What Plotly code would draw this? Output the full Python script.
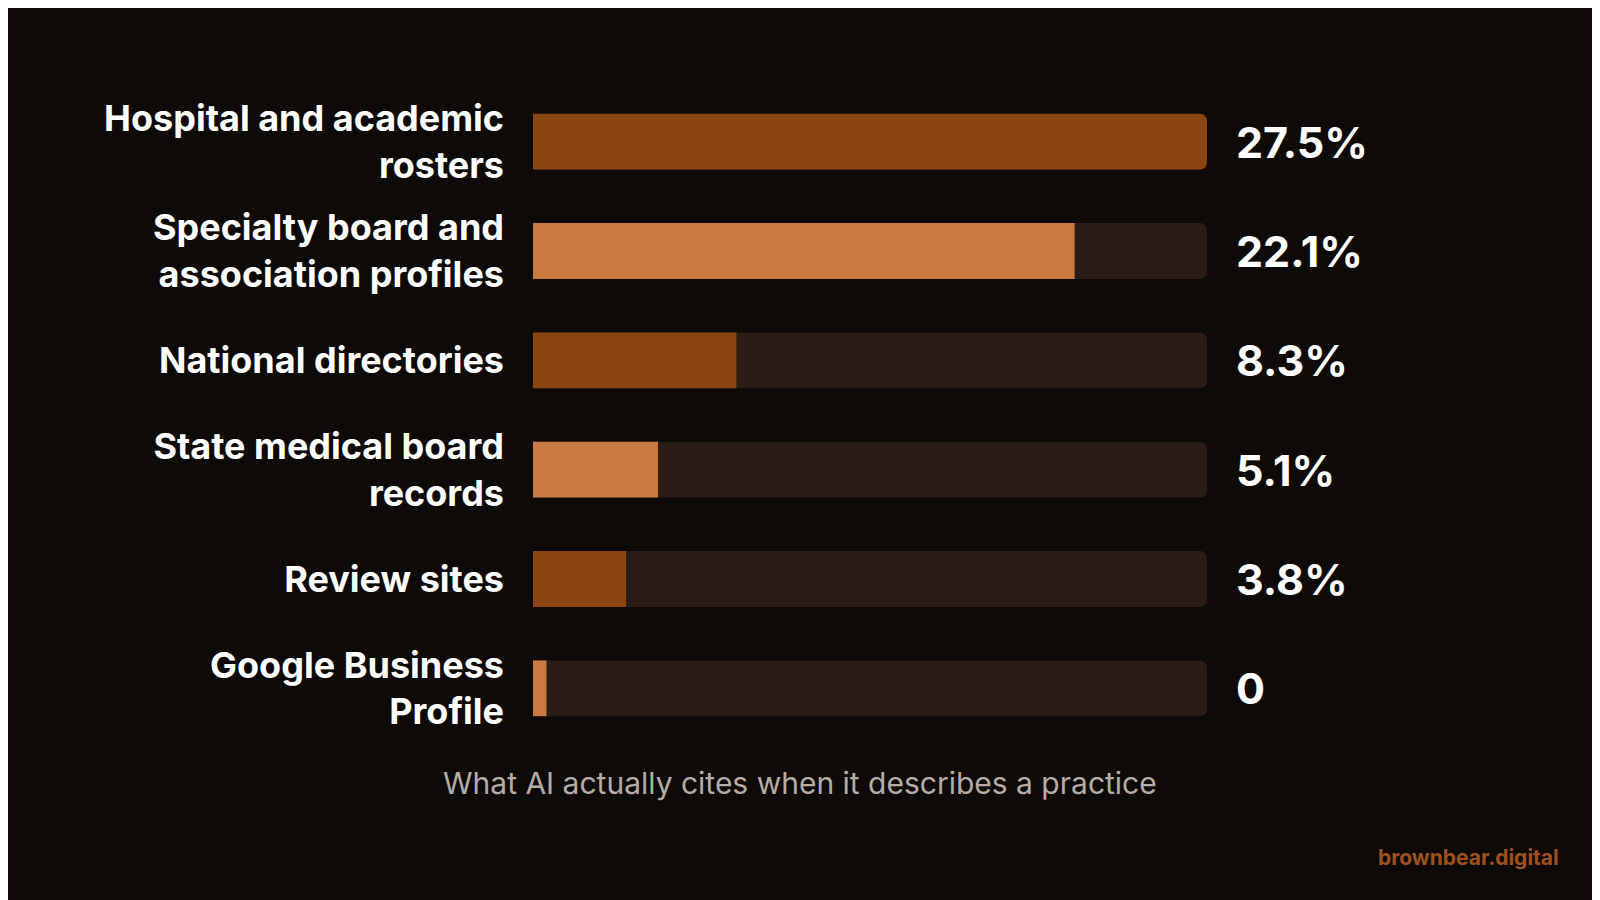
import plotly.graph_objects as go

categories = ["Hospital and academic<br>rosters", "Specialty board and<br>association profiles",
              "National directories", "State medical board<br>records", "Review sites",
              "Google Business<br>Profile"]
values = [27.5, 22.1, 8.3, 5.1, 3.8, 0]
value_labels = ["27.5%", "22.1%", "8.3%", "5.1%", "3.8%", "0"]
colors = ["#8B4513", "#C87A40", "#8B4513", "#C87A40", "#8B4513", "#C87A40"]
track_max = 27.5

shown = [max(v, 0.55) for v in values]

fig = go.Figure()
fig.add_trace(go.Bar(y=categories, x=[track_max]*len(categories), orientation="h",
                     marker=dict(color="#2a1c16", line_width=0), hoverinfo="skip"))
fig.add_trace(go.Bar(y=categories, x=shown, orientation="h",
                     marker=dict(color=colors, line_width=0), hoverinfo="skip"))
for c, t in zip(categories, value_labels):
    fig.add_annotation(x=track_max, y=c, text=t, showarrow=False, xanchor="left", xshift=27,
                       font=dict(family="Inter", size=43, color="white", weight="bold"))
fig.add_annotation(xref="paper", yref="paper", x=0.396, y=-0.03, yanchor="top",
                   text="What AI actually cites when it describes a practice", showarrow=False,
                   font=dict(family="Inter", size=30, color="#b5aca6"))
fig.add_annotation(xref="paper", yref="paper", x=(1553-525)/674, y=-0.175, xanchor="right",
                   yanchor="middle", text="brownbear.digital", showarrow=False,
                   font=dict(family="Inter", size=21, color="#a0501e", weight="bold"))

fig.update_layout(width=1600, height=900, barmode="overlay", bargap=0.49, barcornerradius=7,
                  paper_bgcolor="#0e0a08", plot_bgcolor="#0e0a08", showlegend=False,
                  margin=dict(l=525, r=401, t=79, b=165),
                  xaxis=dict(range=[0, track_max], visible=False, fixedrange=True),
                  yaxis=dict(autorange="reversed", showgrid=False, ticks="", ticklabelstandoff=28,
                             tickfont=dict(family="Inter", size=36, color="white", weight="bold")))
fig.write_html("out.html")
